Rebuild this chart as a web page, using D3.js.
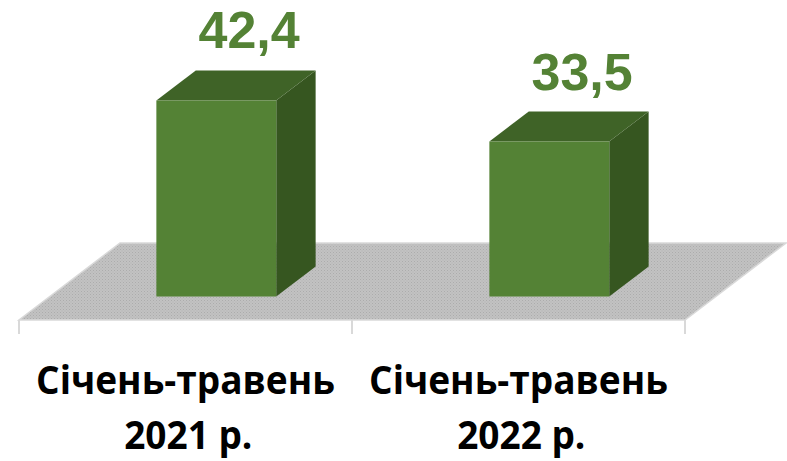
<!DOCTYPE html>
<html>
<head>
<meta charset="utf-8">
<script src="https://cdn.jsdelivr.net/npm/d3@7/dist/d3.min.js"></script>
<style>
  html, body { margin: 0; padding: 0; background: #ffffff; }
  svg { display: block; }
</style>
</head>
<body>
<svg id="chart" width="787" height="461"></svg>
<script>
// ---- data ----
const categoriesLine1 = ["Січень-травень", "Січень-травень"];
const categoriesLine2 = ["2021 р.", "2022 р."];
const values = [42.4, 33.5];
const valueLabels = ["42,4", "33,5"];

// ---- layout ----
const W = 787, H = 461;
const svg = d3.select("#chart");

const floorFrontY = 320;
const floorLeft = 19, floorRight = 685;
const depthDX = 101, depthDY = 77;     // full floor depth offset
const barZ0 = 0.305, barZ1 = 0.695;    // bar front/back depth fraction

const cats = values.map((_, i) => i);
const x = d3.scaleBand().domain(cats).range([floorLeft, floorRight])
  .paddingInner(0.64).paddingOuter(0.32);
const xc = d3.scaleBand().domain(cats).range([floorLeft, floorRight]).padding(0);
const h = d3.scaleLinear().domain([0, 45]).range([0, 45 * 4.625]);

const proj = (px, z, height) => [px + z * depthDX, floorFrontY - z * depthDY - height];

// floor texture
const defs = svg.append("defs");
const pat = defs.append("pattern").attr("id", "tex").attr("width", 3).attr("height", 3)
  .attr("patternUnits", "userSpaceOnUse");
pat.append("rect").attr("width", 3).attr("height", 3).attr("fill", "#c2c2c2");
pat.append("rect").attr("x", 0).attr("y", 0).attr("width", 1).attr("height", 1).attr("fill", "#acacac");
pat.append("rect").attr("x", 1.5).attr("y", 1.5).attr("width", 1).attr("height", 1).attr("fill", "#b3b3b3");

// floor
const fl = [proj(floorLeft, 0, 0), proj(floorRight, 0, 0), proj(floorRight, 1, 0), proj(floorLeft, 1, 0)];
svg.append("polygon")
  .attr("points", fl.map(p => p.join(",")).join(" "))
  .attr("fill", "url(#tex)")
  .attr("stroke", "#d9d9d9").attr("stroke-width", 1.5);

// category axis ticks (front edge)
const tickXs = [floorLeft, ...cats.slice(1).map(i => xc(i)), floorRight];
svg.selectAll("line.tick").data(tickXs).enter().append("line")
  .attr("x1", d => d).attr("x2", d => d)
  .attr("y1", floorFrontY).attr("y2", floorFrontY + 14)
  .attr("stroke", "#d9d9d9").attr("stroke-width", 2);

// bars
const cFront = "#548235", cTop = "#3f6327", cSide = "#365620";
const bars = svg.selectAll("g.bar").data(values).enter().append("g").attr("class", "bar");
bars.each(function (v, i) {
  const g = d3.select(this);
  const x0 = x(i), x1 = x(i) + x.bandwidth(), bh = h(v);
  const poly = pts => pts.map(p => p.join(",")).join(" ");
  // side face
  g.append("polygon").attr("fill", cSide).attr("points", poly([
    proj(x1, barZ0, 0), proj(x1, barZ1, 0), proj(x1, barZ1, bh), proj(x1, barZ0, bh)]));
  // top face
  g.append("polygon").attr("fill", cTop).attr("points", poly([
    proj(x0, barZ0, bh), proj(x1, barZ0, bh), proj(x1, barZ1, bh), proj(x0, barZ1, bh)]));
  // front face
  g.append("polygon").attr("fill", cFront).attr("points", poly([
    proj(x0, barZ0, 0), proj(x1, barZ0, 0), proj(x1, barZ0, bh), proj(x0, barZ0, bh)]));
});

// value labels
svg.selectAll("text.val").data(values).enter().append("text")
  .attr("class", "val")
  .attr("x", (v, i) => proj(xc(i) + xc.bandwidth() / 2, 0.63, 0)[0])
  .attr("y", (v, i) => proj(0, barZ1, h(v))[1] - 22)
  .attr("text-anchor", "middle")
  .attr("font-family", "'Liberation Sans', Arial, sans-serif")
  .attr("font-weight", "bold")
  .attr("font-size", 52)
  .attr("fill", cFront)
  .text((v, i) => valueLabels[i]);

// category labels
const lab = svg.selectAll("g.cat").data(cats).enter().append("g").attr("class", "cat");
lab.each(function (i) {
  const g = d3.select(this);
  const cx = xc(i) + xc.bandwidth() / 2;
  const inner = g.append("g");
  const t1 = inner.append("text").attr("x", 0).attr("y", 394)
    .attr("text-anchor", "middle")
    .attr("font-family", "'Open Sans', 'Noto Sans', sans-serif")
    .attr("font-weight", "bold").attr("font-size", 40).attr("fill", "#000")
    .text(categoriesLine1[i]);
  inner.append("text").attr("x", 3).attr("y", 449)
    .attr("text-anchor", "middle")
    .attr("font-family", "'Open Sans', 'Noto Sans', sans-serif")
    .attr("font-weight", "bold").attr("font-size", 40).attr("fill", "#000")
    .text(categoriesLine2[i]);
  const w = t1.node().getComputedTextLength();
  const sx = 299 / w;
  inner.attr("transform", `translate(${cx},0) scale(${sx},1)`);
});
</script>
</body>
</html>
